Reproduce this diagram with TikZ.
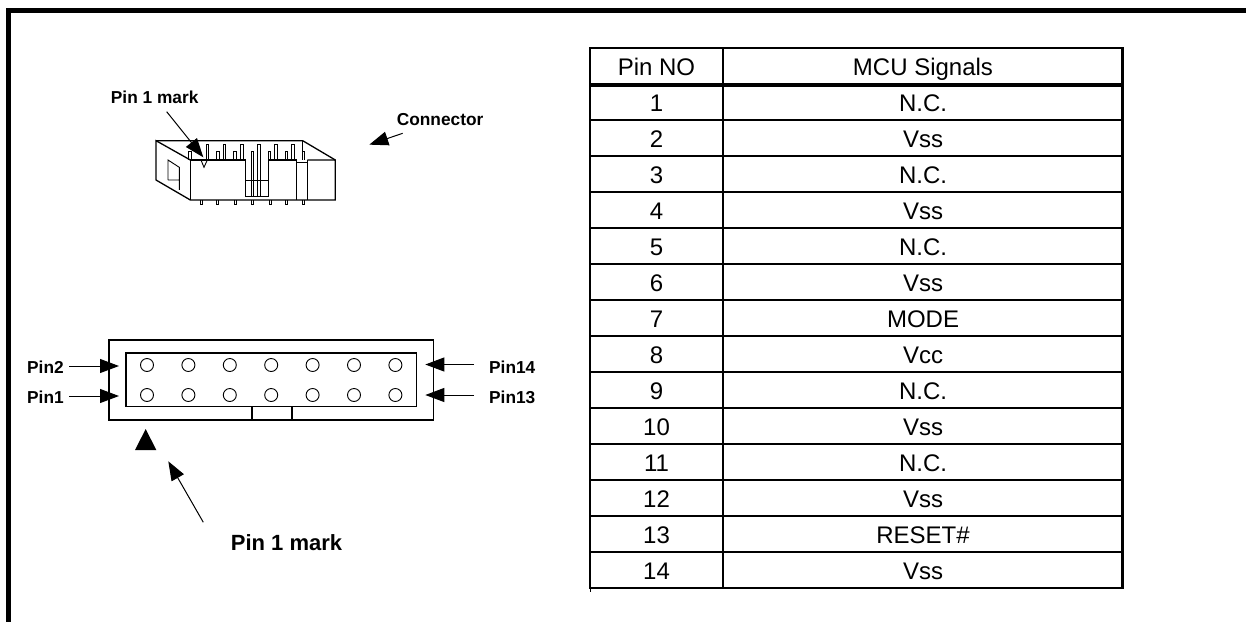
\documentclass[tikz,border=0pt]{standalone}
\usepackage{fontspec}
\setmainfont{Liberation Sans}
\usetikzlibrary{arrows.meta}
\begin{document}
\begin{tikzpicture}[x=1pt,y=-1pt]
\tikzstyle{tablecell} = [inner sep=0pt, anchor=base, font=\fontsize{24}{24}\selectfont] % текст таблицы
\tikzstyle{tablerule} = [line width=2.2pt]
\tikzstyle{pinlabel} = [inner sep=0pt, font=\fontsize{17.3}{17.3}\selectfont\bfseries]
\tikzstyle{outline} = [line width=1.3pt]
\tikzstyle{thinline} = [line width=0.9pt]
\tikzstyle{pinhole} = [draw, thinline, circle, minimum size=13pt, inner sep=0pt]
\tikzstyle{pointer} = [line width=1pt, -{Triangle[length=19pt,width=14pt]}]
\useasboundingbox (0,0) rectangle (1246,621);
\draw[line width=5pt, line cap=rect] (8.5,621)--(8.5,10.5)--(1246,10.5); % рамка

% разъем сверху
\begin{scope}[shift={(100,70)},x=0.3333pt,y=-0.3333pt]
\draw[outline] (271,270)--(168,212)--(168,330)--(271,390)--(706,390)--(706,270)--(622,270);
\draw[outline] (271,390)--(271,270)--(436,270)--(436,380)--(506,380)--(506,270)--(590,270);
\draw[outline] (168,212)--(608,212)--(706,270);
\draw[thinline] (204,330)--(204,270)--(238,292)--(238,360) (204,330)--(238,330);
\draw[thinline] (590,270)--(590,390) (622,270)--(622,390) (590,276)--(622,276);
\draw[thinline] (436,330)--(506,330);
\foreach \x in {322,373,425,476,528,579} % высокие выводы
	\draw[thinline] (\x-4,270)--(\x-4,224)--(\x+4,224)--(\x+4,270);
\foreach \x in {270,353,405,508,559,610} % низкие выводы
	\draw[thinline] (\x-4,270)--(\x-4,244)--(\x+4,244)--(\x+4,270);
\draw[thinline] (453,380)--(453,244)--(461,244)--(461,380);
\draw[thinline] (472,380)--(472,270) (480,380)--(480,270);
\draw[thinline] (608,212)--(608,270);
\draw[thinline] (303,270)--(312,292)--(322,270);
\foreach \x in {303,353,405,457,510,559,610}
	\draw[thinline] (\x-3,390)--(\x-3,402)--(\x+3,402)--(\x+3,390);
\node[pinlabel] (markTop) at (164,82) {Pin 1 mark};
\node[pinlabel, anchor=west] (connLabel) at (890,150) {Connector};
\coordinate (markTail) at (200,125);
\coordinate (markTip) at (310,262);
\coordinate (connTail) at (908,190);
\coordinate (connTip) at (808,224);
\draw[pointer] (markTail)--(markTip);
\draw[pointer] (connTail)--(connTip);
\end{scope}

% разъем спереди
\draw[outline] (109,340) rectangle (433.7,420);
\draw[outline] (126,353) rectangle (416.7,406.3);
\draw[outline] (252,406.3) rectangle (292,420);
\foreach \i in {0,...,6} {
	\node[pinhole] (upper\i) at (147+41.4*\i,365) {};
	\node[pinhole] (lower\i) at (147+41.4*\i,395) {};
}
\node[pinlabel, anchor=west] (pinTwo) at (27,367.5) {Pin2};
\node[pinlabel, anchor=west] (pinOne) at (27,397.5) {Pin1};
\node[pinlabel, anchor=east] (pinFourteen) at (535.5,367.5) {Pin14};
\node[pinlabel, anchor=east] (pinThirteen) at (535.5,397.5) {Pin13};
\coordinate (twoTail) at (69,366);
\coordinate (twoTip) at (119,366);
\coordinate (oneTail) at (69,396);
\coordinate (oneTip) at (119,396);
\coordinate (fourteenTail) at (474,364.5);
\coordinate (fourteenTip) at (425.3,364.5);
\coordinate (thirteenTail) at (474,395);
\coordinate (thirteenTip) at (425.3,395);
\draw[pointer] (twoTail)--(twoTip);
\draw[pointer] (oneTail)--(oneTip);
\draw[pointer] (fourteenTail)--(fourteenTip);
\draw[pointer] (thirteenTail)--(thirteenTip);
\fill (145.7,429)--(156.3,450)--(135,450)--cycle; % метка
\node[pinlabel, font=\fontsize{22}{22}\selectfont\bfseries] (markBottom) at (286.5,543) {Pin 1 mark};
\coordinate (bottomTail) at (203.3,522.3);
\coordinate (bottomTip) at (168.3,461.3);
\draw[pointer] (bottomTail)--(bottomTip);

% таблица
\node[tablecell] (headNo) at (656.5,75) {Pin NO};
\node[tablecell] (headSignal) at (923,75) {MCU Signals};
\foreach \n/\s in {1/N.C.,2/Vss,3/N.C.,4/Vss,5/N.C.,6/Vss,7/MODE,8/Vcc,9/N.C.,10/Vss,11/N.C.,12/Vss,13/RESET\#,14/Vss} {
	\node[tablecell] (pin\n) at (656.5,84+36*\n-8.5) {\n};
	\node[tablecell] (signal\n) at (923,84+36*\n-8.5) {\s};
	\draw[tablerule] (590,84+36*\n)--(1122.5,84+36*\n);
}
\draw[tablerule] (590,48) rectangle (1122.5,588);
\draw[tablerule] (723,48)--(723,588);
\draw[line width=1pt] (590,588)--(590,592);
\draw[line width=4pt] (590,85)--(1122.5,85);
\end{tikzpicture}
\end{document}
